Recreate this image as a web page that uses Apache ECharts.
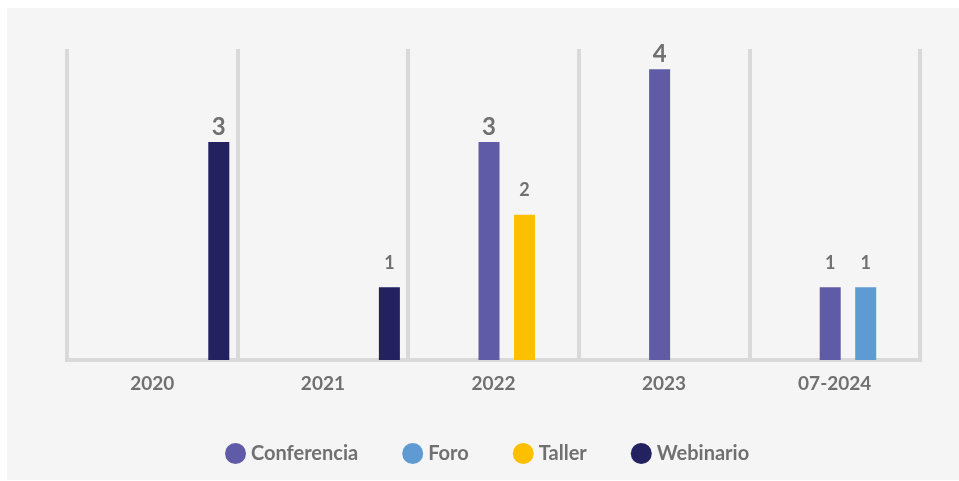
<!DOCTYPE html>
<html>
<head>
<meta charset="utf-8">
<script src="https://cdn.jsdelivr.net/npm/echarts@6/dist/echarts.min.js"></script>
<style>
  html, body { margin: 0; padding: 0; background: #ffffff; }
  #chart { position: absolute; left: 7px; top: 8px; width: 952px; height: 472px; }
</style>
</head>
<body>
<div id="chart"></div>
<script>
// datos
var categorias = ['2020', '2021', '2022', '2023', '07-2024'];
var conferencia = [null, null, 3, 4, 1];
var foro = [null, null, null, null, 1];
var taller = [null, null, 2, null, null];
var webinario = [3, 1, null, null, null];

var gris = '#d9d9d9';
var texto = '#707070';
var fuente = 'Lato';

// etiquetas grandes para valores altos
function conEtiquetas(arr) {
  return arr.map(function (v) {
    if (v == null) return null;
    var grande = v >= 3;
    return {
      value: v,
      label: { fontSize: grande ? 24 : 18, distance: grande ? 3 : 15 }
    };
  });
}

function serie(nombre, color, datos, pila) {
  return {
    name: nombre,
    type: 'bar',
    xAxisIndex: 1,
    yAxisIndex: 1,
    stack: pila,
    barWidth: 21,
    barGap: '69%',
    itemStyle: { color: color },
    label: {
      show: true,
      position: 'top',
      color: texto,
      fontFamily: fuente,
      fontWeight: 'bold'
    },
    data: conEtiquetas(datos)
  };
}

var chart = echarts.init(document.getElementById('chart'));
var option = {
  backgroundColor: '#f5f5f5',
  animation: false,
  legend: {
    left: 213,
    top: 430,
    icon: 'circle',
    itemWidth: 21,
    itemHeight: 21,
    itemGap: 44,
    textStyle: { color: texto, fontFamily: fuente, fontWeight: 'bold', fontSize: 20 },
    data: ['Conferencia', 'Foro', 'Taller', 'Webinario']
  },
  grid: [
    { left: 60, right: 39, top: 41, bottom: 120 },
    // rejilla de barras desplazada a la derecha
    { left: 91, right: 8, top: 41, bottom: 120 }
  ],
  xAxis: [
    {
      type: 'category',
      gridIndex: 0,
      data: categorias,
      axisTick: { show: false },
      axisLine: { lineStyle: { color: gris, width: 4, cap: 'square' } },
      splitLine: { show: true, lineStyle: { color: gris, width: 4 } },
      axisLabel: { color: texto, fontFamily: fuente, fontWeight: 'bold', fontSize: 19, margin: 14 }
    },
    { type: 'category', gridIndex: 1, data: categorias, show: false }
  ],
  yAxis: [
    { type: 'value', gridIndex: 0, min: 0, max: 4.28, show: false, splitLine: { show: false } },
    { type: 'value', gridIndex: 1, min: 0, max: 4.28, show: false, splitLine: { show: false } }
  ],
  series: [
    serie('Conferencia', '#5f5ba6', conferencia),
    // Foro y Taller nunca coinciden: comparten hueco
    serie('Foro', '#609ad3', foro, 'ft'),
    serie('Taller', '#fdc000', taller, 'ft'),
    serie('Webinario', '#232160', webinario)
  ]
};
chart.setOption(option);
</script>
</body>
</html>
